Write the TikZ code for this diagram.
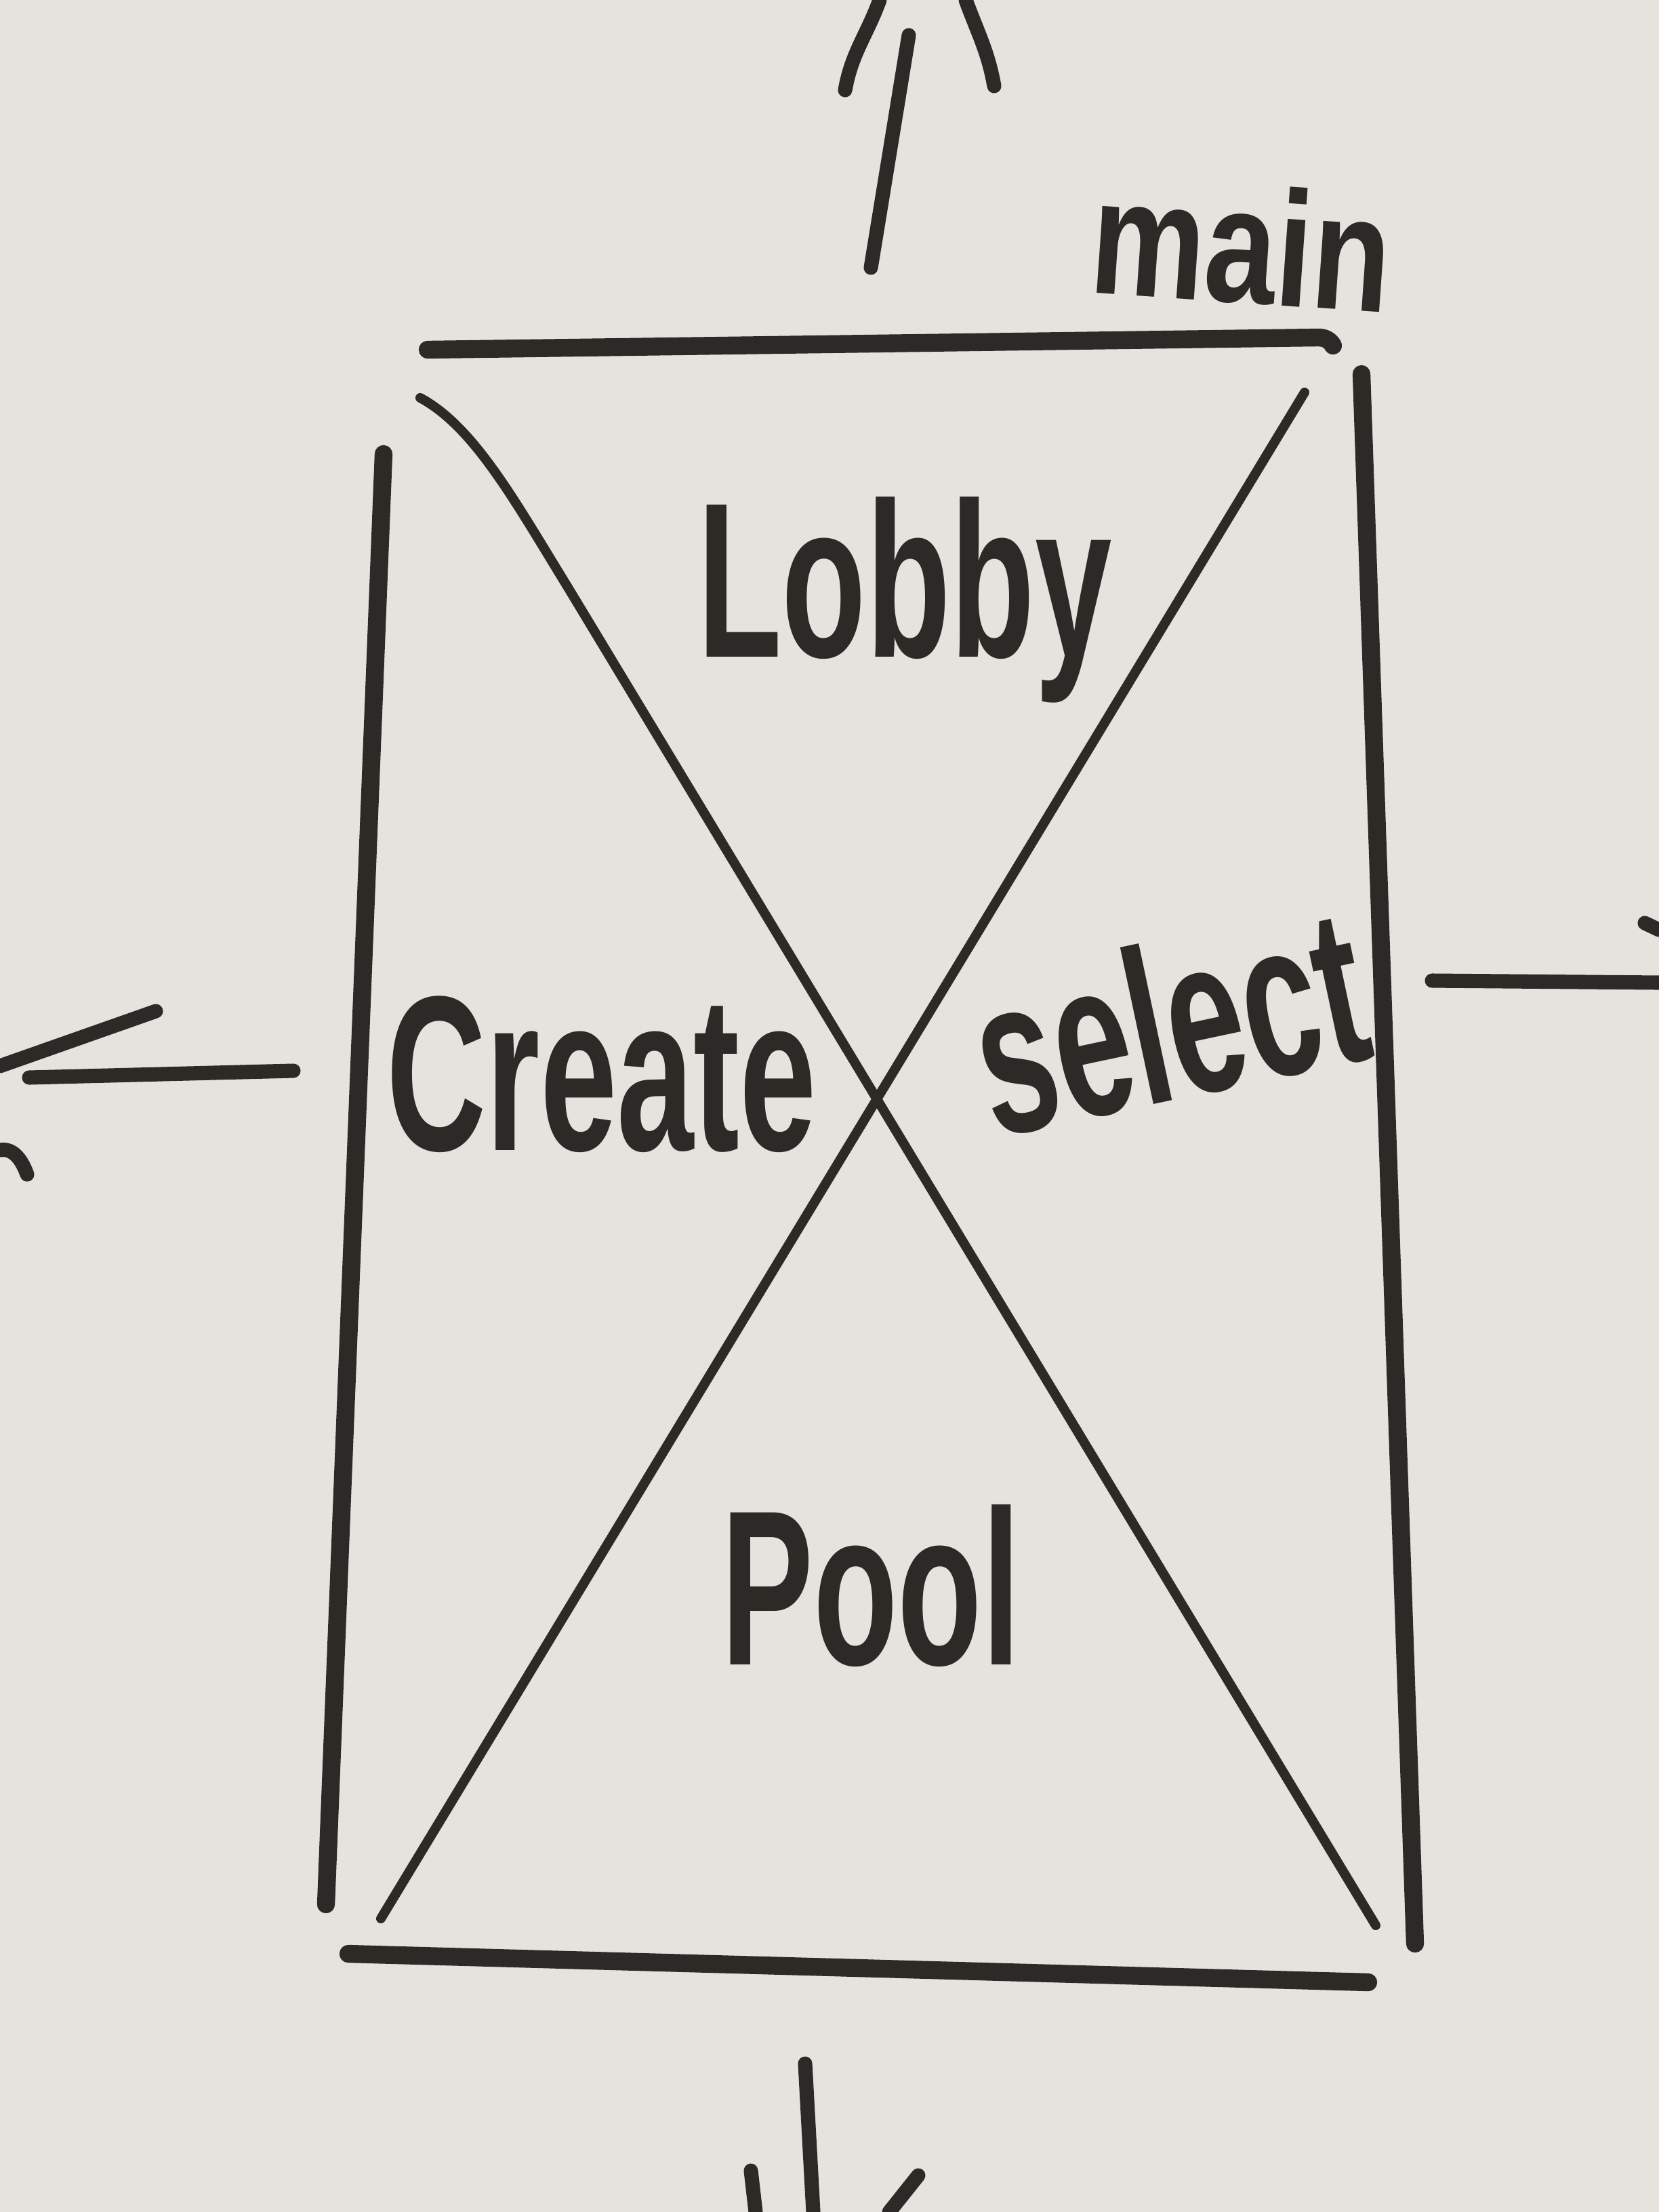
\documentclass[tikz,border=0pt]{standalone}
\usepackage{fontspec}
\setmainfont{Liberation Sans}
\usetikzlibrary{positioning}
\definecolor{board}{RGB}{229,227,221}
\definecolor{ink}{RGB}{44,41,38}

\begin{document}
\begin{tikzpicture}[x=1cm, y=-1cm,
    frame/.style={line width=7.5pt, ink, line cap=round},
    cross/.style={line width=4pt, ink, line cap=round},
    stroke/.style={line width=6pt, ink, line cap=round},
    label/.style={font=\bfseries\fontsize{58}{58}\selectfont, text=ink, inner sep=0pt,
                  yscale=1.6, transform shape}]
    % Tableau
    \fill[board] (0,0) rectangle (24.48,32.64);
    \useasboundingbox (0,0) rectangle (24.48,32.64);

    % === CADRE ===
    \draw[frame] (6.31,5.16) -- (19.45,4.98) to[out=0,in=120] (19.67,5.10);
    \draw[frame] (20.09,5.52) -- (20.88,28.68);
    \draw[frame] (5.66,6.70) -- (4.81,28.10);
    \draw[frame] (5.14,28.83) -- (20.19,29.25);

    % Diagonales
    \draw[cross] (6.20,5.87) .. controls (7.0,6.3) and (7.6,7.4) .. (8.4,8.7) -- (20.30,28.41);
    \draw[cross] (19.25,5.79) -- (5.62,28.31);

    % === TEXTES ===
    \node[label] (lobby) at (13.35,8.85) {Lobby};
    \node[label] (create) at (8.88,15.85) {Create};
    \node[rotate=12, label] (select) at (17.25,15.05) {select};
    \node[label] (pool) at (12.85,23.40) {Pool};
    \node[rotate=-4, label, font=\bfseries\fontsize{54}{54}\selectfont, yscale=0.8] (main) at (18.32,3.60) {main};

    % === FLECHES ===
    % Haut
    \coordinate (upfoot) at (12.85,3.95);
    \coordinate (uptip) at (13.41,0.52);
    \draw[stroke] (upfoot) -- (uptip);
    \draw[stroke] (12.47,1.33) to[out=80,in=-110] (12.98,0);
    \draw[stroke] (14.67,1.27) to[out=100,in=-70] (14.25,0);

    % Gauche
    \coordinate (leftfoot) at (4.33,15.80);
    \coordinate (lefttip) at (0.43,15.90);
    \draw[stroke] (leftfoot) -- (lefttip);
    \draw[stroke] (2.30,14.92) -- (0,15.73);
    \draw[stroke] (0,16.97) to[out=10,in=110] (0.40,17.33);

    % Droite
    \coordinate (rightfoot) at (21.13,14.47);
    \coordinate (righttip) at (24.48,14.50);
    \draw[stroke] (rightfoot) -- (righttip);
    \draw[stroke] (24.27,13.62) -- (24.48,13.72);

    % Bas
    \coordinate (downfoot) at (11.88,30.45);
    \coordinate (downtip) at (12.00,32.64);
    \draw[stroke] (downfoot) -- (downtip);
    \draw[stroke] (11.08,32.03) -- (11.15,32.64);
    \draw[stroke] (13.55,32.10) -- (13.12,32.64);
\end{tikzpicture}
\end{document}
